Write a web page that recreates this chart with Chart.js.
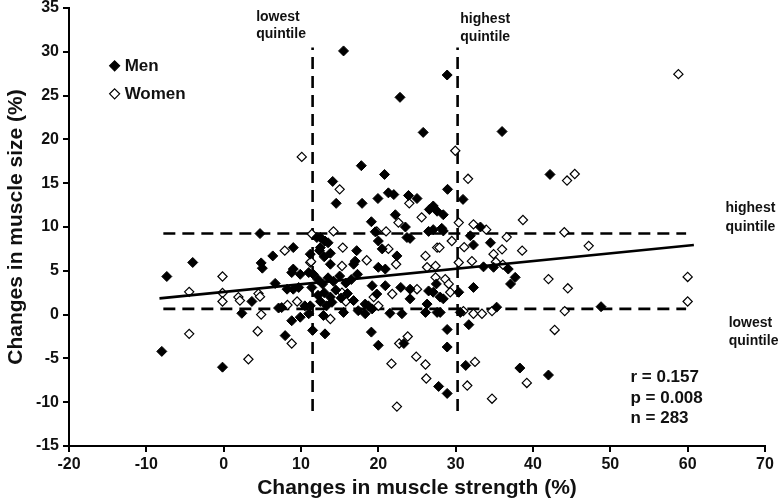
<!DOCTYPE html>
<html>
<head>
<meta charset="utf-8">
<script src="https://cdn.jsdelivr.net/npm/chart.js@4.4.1/dist/chart.umd.min.js"></script>
<style>
html,body{margin:0;padding:0;background:#fff;}
#wrap{width:780px;height:501px;}
</style>
</head>
<body>
<div id="wrap"><canvas id="c" width="780" height="501"></canvas></div>
<script>
// ---- data (x = change in muscle strength %, y = change in muscle size %) ----
const menX = [-8.0,-7.35,-4.0,-0.15,4.7,4.85,5.0,6.35,9.0,12.05,11.2,9.0,12.5,6.66,8.8,9.9,11.0,11.6,8.2,9.0,9.7,11.4,3.65,2.35,7.1,7.5,8.8,9.9,10.5,11.2,11.0,11.5,7.95,
 15.5,28.9,22.8,25.8,36.0,
 17.8,20.8,14.1,21.3,22.0,14.55,17.9,19.95,23.9,25.0,26.6,27.1,27.6,22.2,19.1,23.5,12.5,13.1,13.5,17.2,19.6,20.0,20.5,23.7,24.1,22.4,26.5,27.1,17.0,20.0,20.9,12.4,13.0,13.8,
 13.8,16.8,19.2,20.9,22.9,24.1,26.5,27.5,24.1,19.8,18.3,18.7,19.2,17.4,18.3,21.5,23.05,26.3,26.1,27.6,12.9,15.5,13.1,19.1,20.0,23.3,
 12.2,12.8,13.5,14.2,15.0,15.8,16.5,17.3,13.0,13.8,14.5,15.2,16.0,16.8,12.5,13.3,14.0,12.2,
 42.2,28.95,30.95,28.4,28.2,28.4,33.2,31.9,32.3,34.5,33.6,34.9,36.8,37.7,37.1,32.3,30.4,27.1,28.0,28.4,28.0,30.6,35.3,31.7,28.9,28.9,31.3,38.3,42.0,27.8,28.9,48.8];
const menY = [-4.2,4.35,5.95,-6.0,9.25,5.9,5.3,6.7,7.65,8.8,6.9,5.2,7.65,3.56,4.8,4.6,4.8,4.6,2.9,2.9,3.1,3.1,1.5,0.15,0.75,0.8,-0.7,-0.3,1.0,1.0,0.1,-1.8,-2.4,
 30.1,27.35,24.8,20.8,20.9,
 17.0,16.0,15.2,13.9,13.7,12.7,12.7,13.25,13.6,13.25,12.0,12.4,11.8,11.4,10.6,10.0,8.8,8.4,8.2,7.3,9.45,8.4,7.5,8.8,8.7,6.7,9.5,9.7,6.1,5.4,5.2,7.3,6.6,7.0,
 5.75,5.75,3.3,3.3,3.1,2.9,2.7,3.5,1.8,2.35,1.2,1.0,0.65,0.45,0.1,0.15,0.1,1.2,0.25,0.25,-0.1,0.25,-2.2,-2.0,-3.5,-3.3,
 4.0,3.5,4.2,3.8,4.4,3.6,4.0,4.6,2.5,2.0,2.8,1.9,2.4,1.6,1.5,1.0,1.4,2.2,
 16.0,14.3,13.15,11.4,9.85,9.55,10.0,9.0,7.95,8.2,5.45,5.4,5.2,4.25,3.5,3.1,2.55,2.55,2.0,1.8,0.25,0.25,0.85,-1.15,-1.7,-3.7,-5.8,-6.1,-6.9,-8.2,-9.0,0.9];
const womenX = [-4.46,-4.46,-0.15,-0.15,-0.15,1.9,2.1,4.5,4.7,4.85,8.25,9.5,4.4,8.8,3.2,11.2,10.1,11.4,7.9,11.3,
 15.0,24.0,25.6,22.6,14.2,15.4,19.8,21.0,21.3,26.1,27.6,18.5,
 15.3,22.3,26.3,27.4,21.8,25.0,19.4,20.0,13.8,23.8,22.7,24.9,26.1,21.7,26.2,22.4,15.3,15.8,
 29.95,31.6,30.4,32.3,33.95,38.7,36.6,36.0,29.5,27.9,31.1,34.9,38.6,30.4,32.1,35.2,36.1,
 42.0,27.4,28.65,29.1,29.3,31.0,32.3,33.4,34.7,42.8,32.5,39.2,31.5,34.7,
 58.8,44.4,45.4,44.05,47.2,44.5,60.0,60.0,44.1];
const womenY = [2.6,-2.2,4.35,2.47,1.5,2.0,1.6,2.4,2.05,0.0,1.1,1.5,-1.9,-3.3,-5.1,5.95,18.0,9.2,7.3,6.05,
 14.3,12.7,11.1,10.5,9.5,7.65,9.5,9.5,7.5,6.7,7.65,6.2,
 5.55,5.75,5.4,5.55,2.35,2.9,2.0,1.0,-0.5,-2.5,-3.3,-4.8,-5.7,-5.6,-7.3,-10.5,2.5,1.5,
 18.7,15.5,10.5,10.3,9.7,10.8,8.85,7.45,8.4,7.65,7.7,6.9,7.3,5.95,6.1,6.0,5.7,
 4.05,4.25,4.05,3.5,2.55,0.4,0.1,0.1,0.4,-1.75,-5.4,-7.8,-8.1,-9.6,
 27.45,15.3,16.05,9.4,7.85,3.0,4.3,1.5,0.4];
// quintile cut-offs and their drawn extents
const strengthCuts = [11.5, 30.25];
const strengthCutSpan = [-11, 30.5];
const sizeCuts = [0.65, 9.25];
const sizeCutSpan = [-7.8, 59.8];
// regression line end points
const fitX = [-8.3, 60.8];
const fitY = [1.85, 7.95];
const xTicks = [-20,-10,0,10,20,30,40,50,60,70];
const yTicks = [-15,-10,-5,0,5,10,15,20,25,30,35];

const toPts = (xs, ys) => xs.map((x, i) => ({x, y: ys[i]}));
const dashStyle = {type:'line', borderColor:'#000', borderWidth:2.6, borderDash:[12,7], pointRadius:0, fill:false, showLine:true, order:3};
const datasets = [];
strengthCuts.forEach(c => datasets.push(Object.assign({label:'q', data:[{x:c,y:strengthCutSpan[0]},{x:c,y:strengthCutSpan[1]}]}, dashStyle)));
sizeCuts.forEach(c => datasets.push(Object.assign({label:'q', data:[{x:sizeCutSpan[0],y:c},{x:sizeCutSpan[1],y:c}]}, dashStyle)));
datasets.push({type:'line', label:'fit', data:toPts(fitX, fitY), borderColor:'#000', borderWidth:2.6, pointRadius:0, showLine:true, order:0});
datasets.push({label:'Women', data:toPts(womenX, womenY), pointStyle:'rectRot', pointRadius:4.6, backgroundColor:'#fff', borderColor:'#000', borderWidth:1.2, order:2});
datasets.push({label:'Men', data:toPts(menX, menY), pointStyle:'rectRot', pointRadius:5, backgroundColor:'#000', borderColor:'#000', borderWidth:1, order:1});

const FONT = '"Liberation Sans", Arial, sans-serif';
const annot = {
  id:'annot',
  afterDraw(chart){
    const {ctx, scales:{x, y}} = chart;
    ctx.save();
    ctx.fillStyle = '#111';
    ctx.textBaseline = 'middle';
    // legend
    const legend = [['Men', '#000', 28.4], ['Women', '#fff', 25.2]];
    legend.forEach(([t, fill, yv]) => {
      const px = x.getPixelForValue(-14.1), py = y.getPixelForValue(yv);
      ctx.beginPath();
      ctx.moveTo(px, py-5); ctx.lineTo(px+5, py); ctx.lineTo(px, py+5); ctx.lineTo(px-5, py); ctx.closePath();
      ctx.fillStyle = fill; ctx.fill(); ctx.lineWidth = 1.2; ctx.strokeStyle = '#000'; ctx.stroke();
      ctx.fillStyle = '#111';
      ctx.font = 'bold 17px ' + FONT; ctx.textAlign = 'left';
      ctx.fillText(t, px + 10, py);
    });
    // quintile labels
    ctx.font = 'bold 14px ' + FONT; ctx.textAlign = 'left';
    const ql = [['lowest', 4.2, 34.0], ['quintile', 4.2, 32.0], ['highest', 30.6, 33.7], ['quintile', 30.6, 31.7],
                ['highest', 64.9, 12.1], ['quintile', 64.9, 10.0], ['lowest', 65.3, -0.95], ['quintile', 65.3, -3.0]];
    ql.forEach(([t, xv, yv]) => ctx.fillText(t, x.getPixelForValue(xv), y.getPixelForValue(yv)));
    // stats
    ctx.font = 'bold 17px ' + FONT;
    [['r = 0.157', -7.2], ['p = 0.008', -9.5], ['n = 283', -11.8]].forEach(([t, yv]) =>
      ctx.fillText(t, x.getPixelForValue(52.6), y.getPixelForValue(yv)));
    ctx.restore();
  }
};

new Chart(document.getElementById('c'), {
  type:'scatter',
  data:{datasets},
  plugins:[annot],
  options:{
    responsive:false, animation:false, devicePixelRatio:1,
    layout:{padding:{top:8, right:15, left:0, bottom:0}},
    plugins:{legend:{display:false}, tooltip:{enabled:false}},
    scales:{
      x:{type:'linear', min:-20, max:70,
        afterBuildTicks(s){ s.ticks = xTicks.map(v => ({value:v})); },
        afterFit(s){ s.height = 55; s.paddingRight = 10; },
        grid:{drawOnChartArea:false, drawTicks:true, tickLength:6, color:'#000', lineWidth:2},
        border:{color:'#000', width:2},
        ticks:{color:'#111', font:{family:FONT, size:16, weight:'bold'}, padding:3, maxRotation:0},
        title:{display:true, text:'Changes in muscle strength (%)', color:'#111', font:{family:FONT, size:21, weight:'bold'}, padding:{top:0, bottom:0}}
      },
      y:{type:'linear', min:-15, max:35,
        afterBuildTicks(s){ s.ticks = yTicks.map(v => ({value:v})); },
        afterFit(s){ s.width = 69; s.paddingTop = 0; s.paddingBottom = 0; },
        grid:{drawOnChartArea:false, drawTicks:true, tickLength:6, color:'#000', lineWidth:2},
        border:{color:'#000', width:2},
        ticks:{color:'#111', font:{family:FONT, size:16, weight:'bold'}, padding:4},
        title:{display:true, text:'Changes in muscle size (%)', color:'#111', font:{family:FONT, size:21, weight:'bold'}, padding:{top:4, bottom:0}}
      }
    }
  }
});
</script>
</body>
</html>
